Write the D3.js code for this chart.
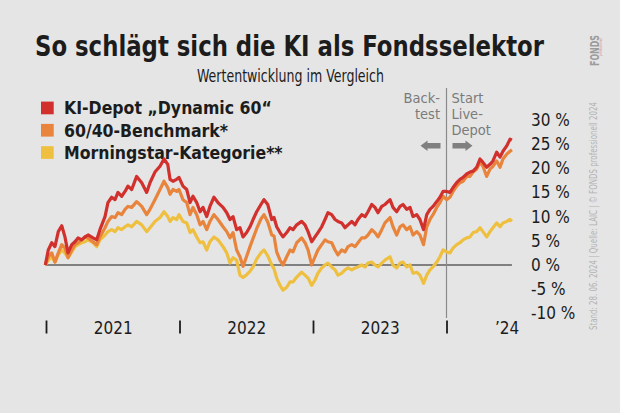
<!DOCTYPE html>
<html>
<head>
<meta charset="utf-8">
<script src="https://d3js.org/d3.v7.min.js"></script>
<style>
    body { margin: 0; background: #e5e5e5; }
    svg { display: block; }
    text { font-family: "Liberation Sans Narrow", "DejaVu Sans Condensed", Roboto, sans-serif; fill: #1c1c1c; }
</style>
</head>
<body>
<div id="chart"></div>
<script>
// --- data (% change since start) ---
const seriesNames = ['KI-Depot \u201EDynamic 60\u201C', '60/40-Benchmark*', 'Morningstar-Kategorie**'];

// time as decimal years
const time = [
    2020.995, 2021.017, 2021.043, 2021.067, 2021.092, 2021.118, 2021.142, 2021.165, 2021.193, 2021.217,
    2021.240, 2021.267, 2021.292, 2021.315, 2021.352, 2021.380, 2021.404, 2021.442, 2021.464, 2021.492,
    2021.517, 2021.539, 2021.567, 2021.592, 2021.614, 2021.642, 2021.679, 2021.717, 2021.754, 2021.779,
    2021.816, 2021.854, 2021.884, 2021.912, 2021.929, 2021.951, 2021.979, 2021.996, 2022.026, 2022.054,
    2022.079, 2022.101, 2022.129, 2022.154, 2022.176, 2022.204, 2022.228, 2022.258, 2022.288, 2022.326,
    2022.354, 2022.378, 2022.401, 2022.428, 2022.453, 2022.476, 2022.503, 2022.528, 2022.551, 2022.578,
    2022.610, 2022.633, 2022.661, 2022.691, 2022.708, 2022.728, 2022.753, 2022.775, 2022.803, 2022.828,
    2022.850, 2022.878, 2022.915, 2022.940, 2022.963, 2022.990, 2023.015, 2023.037, 2023.065, 2023.090,
    2023.112, 2023.140, 2023.165, 2023.187, 2023.215, 2023.240, 2023.262, 2023.290, 2023.315, 2023.337,
    2023.365, 2023.390, 2023.412, 2023.440, 2023.464, 2023.487, 2023.515, 2023.539, 2023.577, 2023.599,
    2023.627, 2023.652, 2023.674, 2023.702, 2023.727, 2023.749, 2023.777, 2023.801, 2023.828, 2023.852,
    2023.876, 2023.899, 2023.927, 2023.951, 2023.974, 2024.001, 2024.026, 2024.049, 2024.076, 2024.101,
    2024.124, 2024.151, 2024.176, 2024.199, 2024.226, 2024.251, 2024.273, 2024.301, 2024.326, 2024.348,
    2024.376, 2024.401, 2024.423, 2024.451, 2024.476, 2024.490
];

const kiDepot = [
    0, 3.1, 4.6, 3.8, 6.9, 8.1, 5.8, 2.5, 4.2, 4.8,
    5.6, 5.2, 5.8, 6.2, 5.6, 5.2, 7.3, 10, 12.9, 14,
    13.5, 15, 14.2, 15.2, 16.3, 15.6, 18.3, 17, 15, 17,
    19.2, 20.4, 21.9, 20.8, 17.7, 17.3, 17.7, 18.1, 16.3, 15.6,
    12.9, 14.2, 12.9, 11, 11.9, 10, 12.1, 14, 12.9, 11.9,
    10.8, 9.4, 10, 7.3, 7.7, 5.8, 6.7, 7.9, 9.4, 11,
    12.5, 13.5, 12.5, 9.4, 9.8, 7.9, 6.7, 5.8, 6.7, 7.7,
    7.3, 8.3, 9.0, 8.3, 6.9, 4.8, 5.8, 6.7, 7.9, 9.4,
    10.8, 10.4, 9.4, 9.0, 8.7, 7.7, 8.3, 9.0, 8.3, 9.4,
    10.4, 10, 11, 12.5, 11.9, 10.8, 12.1, 12.5, 13.5, 11.9,
    11, 12.1, 12.5, 11.5, 11.9, 10, 10.4, 9.4, 7.3, 10.4,
    11.5, 12.1, 13.1, 14, 15.2, 15.2, 15, 16, 17, 17.7,
    18.1, 18.8, 19.2, 19.4, 20.2, 21.9, 21.2, 20.2, 20.8, 21.5,
    23.3, 22.3, 23.5, 24.6, 26, 25.8
];

const benchmark = [
    0, 1.7, 2.5, 0.6, 2.5, 4.2, 3.5, 1.5, 3.1, 4.2,
    4.6, 5.2, 5.8, 5.6, 4.8, 4.2, 5.8, 7.7, 9, 10,
    9.8, 10.8, 10.4, 11.5, 12.1, 11.9, 13.1, 12.1, 10.4, 11.5,
    13.5, 15.6, 17.3, 16, 14.6, 15.6, 15.2, 15.6, 13.5, 12.9,
    10.4, 11.9, 10.4, 8.3, 9, 7.3, 9, 10.4, 9.4, 7.9,
    6.9, 5.6, 6.7, 3.1, 1.7, -0.3, 1.8, 3.8, 5.5, 7.5,
    9.5, 10.4, 8.9, 6.2, 6.0, 2.7, 1.0, 0, 1.7, 3.1,
    2.7, 4.6, 5.6, 4.6, 3.1, 0, 1.7, 3.1, 4.2, 5.2,
    4.8, 4.6, 3.1, 2.1, 3.1, 2.7, 3.8, 4.2, 3.8, 4.6,
    5.6, 5.6, 6.2, 7.3, 6.7, 5.8, 7.3, 8.7, 9.8, 7.9,
    6.2, 7.9, 8.3, 7.3, 7.9, 6.2, 6.9, 6.2, 4.2, 7.9,
    9.4, 10.4, 11.9, 12.9, 14.2, 13.5, 14, 15.2, 16.3, 17,
    17.3, 18.3, 18.3, 19.2, 19.8, 21.2, 20.4, 18.3, 19.8, 20.4,
    21.5, 20.2, 21.9, 22.9, 23.5, 23.8
];

const morningstar = [
    0, 1.0, 1.7, 0.6, 2.1, 3.1, 2.5, 1.5, 2.7, 3.8,
    4.2, 4.6, 4.8, 5.2, 4.6, 3.8, 5.2, 6.2, 6.9, 7.3,
    6.9, 7.7, 7.3, 7.9, 8.3, 7.9, 9.0, 8.3, 6.9, 7.7,
    9.0, 9.8, 11, 10, 9, 9.8, 9.4, 10.4, 9, 8.7,
    6.7, 7.3, 5.8, 4.6, 4.8, 3.1, 4.8, 5.8, 5.2, 3.8,
    2.5, 0.4, 1.5, 1.0, -2.1, -2.6, -2.0, -1.3, -0.4, 1.2,
    2.5, 3.1, 1.9, 0, -0.8, -2.7, -4.2, -5.2, -4.6, -3.5,
    -3.5, -2.5, -1.5, -2.1, -2.7, -4.2, -3.1, -1.7, -0.6, 0,
    0.4, -0.4, -1.0, -2.1, -1.7, -1.0, -0.6, -1.0, -0.6, -0.4,
    0, -0.4, 0.4, 0.6, 0, -0.4, 0.4, 1.0, 1.7, 0,
    -0.6, 0.4, 0.6, -0.4, 0, -1.7, -1.5, -2.1, -3.8, -2.1,
    -1.0, -0.4, 0.6, 1.7, 3.1, 2.7, 2.5, 3.5, 4.2, 4.6,
    5.2, 5.6, 5.8, 6.7, 6.9, 7.7, 6.9, 5.8, 6.9, 7.7,
    8.7, 7.9, 8.7, 9.0, 9.4, 9.0
];

const yTicks = [-10, -5, 0, 5, 10, 15, 20, 25, 30];
const yearBreaks = [2021, 2022, 2023, 2024];
const yearLabelPos = [2021.5, 2022.5, 2023.5, 2024.45];
const yearLabels = ['2021', '2022', '2023', '\u201924'];
const liveStart = 2024;

// --- drawing ---
const svg = d3.select('#chart')
    .append('svg')
    .attr('width', 620)
    .attr('height', 413);

svg.append('rect')
    .attr('width', 620).attr('height', 413)
    .attr('fill', '#e5e5e5');

const x = d3.scaleLinear().domain([2021, 2024]).range([46, 446.5]);
const y = d3.scaleLinear().domain([-10, 30]).range([313.4, 119.8]);
const color = d3.scaleOrdinal()
    .domain(seriesNames)
    .range(['#d1302d', '#e8843b', '#efbf3f']);

// title + subtitle
svg.append('text')
    .attr('x', 35).attr('y', 56)
    .attr('textLength', 509).attr('lengthAdjust', 'spacingAndGlyphs')
    .style('font-size', '28px').style('font-weight', 'bold')
    .text('So schlägt sich die KI als Fondsselektor');

svg.append('text')
    .attr('x', 197).attr('y', 82)
    .attr('textLength', 187).attr('lengthAdjust', 'spacingAndGlyphs')
    .style('font-size', '17.5px')
    .text('Wertentwicklung im Vergleich');

// legend
const legend = svg.append('g');
seriesNames.forEach((name, i) => {
    const row = legend.append('g').attr('transform', `translate(41,${114.3 + i * 22.3})`);
    row.append('rect')
        .attr('x', 0).attr('y', -12.7)
        .attr('width', 12.7).attr('height', 12.7)
        .attr('fill', color(name));
    row.append('text')
        .attr('x', 23).attr('y', 0)
        .style('font-size', '17.5px').style('font-weight', 'bold')
        .text(name);
});

// zero line
svg.append('line')
    .attr('x1', x(time[0])).attr('x2', x(time[time.length - 1]))
    .attr('y1', y(0)).attr('y2', y(0))
    .attr('stroke', '#1c1c1c').attr('stroke-width', 1.2);

// live start marker
const lx = x(liveStart);
svg.append('line')
    .attr('x1', lx).attr('x2', lx)
    .attr('y1', 88).attr('y2', 318)
    .attr('stroke', '#8a8a8a').attr('stroke-width', 1.2);

// back-test / live notes, one text per line
[['Back-', 'test'], ['Start', 'Live-', 'Depot']].forEach((lines, side) => {
    lines.forEach((t, i) => {
        svg.append('text')
            .attr('x', side === 0 ? lx - 6.5 : lx + 5)
            .attr('y', 102.5 + i * 16.3)
            .attr('text-anchor', side === 0 ? 'end' : 'start')
            .style('font-size', '14.5px')
            .style('fill', '#7b7b7b')
            .text(t);
    });
});

function arrow(dir) {
    const cy = 145.7;
    const x0 = lx + dir * 6, x1 = lx + dir * 26, xh = x1 - dir * 7;
    const p = d3.path();
    p.moveTo(x0, cy - 2.8);
    p.lineTo(xh, cy - 2.8);
    p.lineTo(xh, cy - 5.2);
    p.lineTo(x1, cy);
    p.lineTo(xh, cy + 5.2);
    p.lineTo(xh, cy + 2.8);
    p.lineTo(x0, cy + 2.8);
    p.closePath();
    return p.toString();
}
svg.append('path').attr('d', arrow(-1)).attr('fill', '#808080');
svg.append('path').attr('d', arrow(1)).attr('fill', '#808080');

// series lines (yellow first, red on top)
const seriesValues = [kiDepot, benchmark, morningstar];
const line = d3.line()
    .x((d, i) => x(time[i]))
    .y(d => y(d));

[2, 1, 0].forEach(k => {
    svg.append('path')
        .datum(seriesValues[k])
        .attr('fill', 'none')
        .attr('stroke', color(seriesNames[k]))
        .attr('stroke-width', 3.2)
        .attr('stroke-linejoin', 'round')
        .attr('d', line);
});

// y axis labels on the right
const yAxis = svg.append('g')
    .attr('transform', 'translate(531,0)')
    .call(d3.axisRight(y).tickValues(yTicks).tickSize(0).tickPadding(0).tickFormat(d => `${d} %`));
yAxis.select('.domain').remove();
yAxis.selectAll('text')
    .style('font-size', '17px')
    .style('font-family', '"Liberation Sans Narrow", "DejaVu Sans Condensed", sans-serif')
    .attr('fill', '#1c1c1c');

// x axis: year break marks and year labels
const xBreaks = svg.append('g')
    .attr('transform', 'translate(0,320.5)')
    .call(d3.axisBottom(x).tickValues(yearBreaks).tickSize(13).tickFormat(''));
xBreaks.select('.domain').remove();
xBreaks.selectAll('line').attr('stroke', '#1c1c1c').attr('stroke-width', 1.8);

const xLabels = svg.append('g')
    .attr('transform', 'translate(0,320)')
    .call(d3.axisBottom(x).tickValues(yearLabelPos).tickSize(0).tickPadding(2).tickFormat((d, i) => yearLabels[i]));
xLabels.select('.domain').remove();
xLabels.selectAll('text')
    .style('font-size', '17px')
    .style('font-family', '"Liberation Sans Narrow", "DejaVu Sans Condensed", sans-serif')
    .attr('fill', '#1c1c1c');

// side credits
svg.append('text')
    .attr('transform', 'translate(597,330) rotate(-90)')
    .attr('textLength', 228).attr('lengthAdjust', 'spacingAndGlyphs')
    .style('font-size', '10.5px')
    .style('fill', '#b3b3b3')
    .text('Stand: 28. 06. 2024 | Quelle: LAIC | \u00A9 FONDS professionell 2024');

svg.append('text')
    .attr('transform', 'translate(599,66) rotate(-90)')
    .attr('textLength', 31).attr('lengthAdjust', 'spacingAndGlyphs')
    .style('font-size', '12px').style('font-weight', 'bold')
    .style('fill', '#9c9c9c')
    .text('FONDS');
svg.append('text')
    .attr('transform', 'translate(602,56) rotate(-90)')
    .attr('textLength', 18).attr('lengthAdjust', 'spacingAndGlyphs')
    .style('font-size', '4px').style('font-style', 'italic')
    .style('fill', '#d98a7a')
    .text('professionell');
</script>
</body>
</html>
